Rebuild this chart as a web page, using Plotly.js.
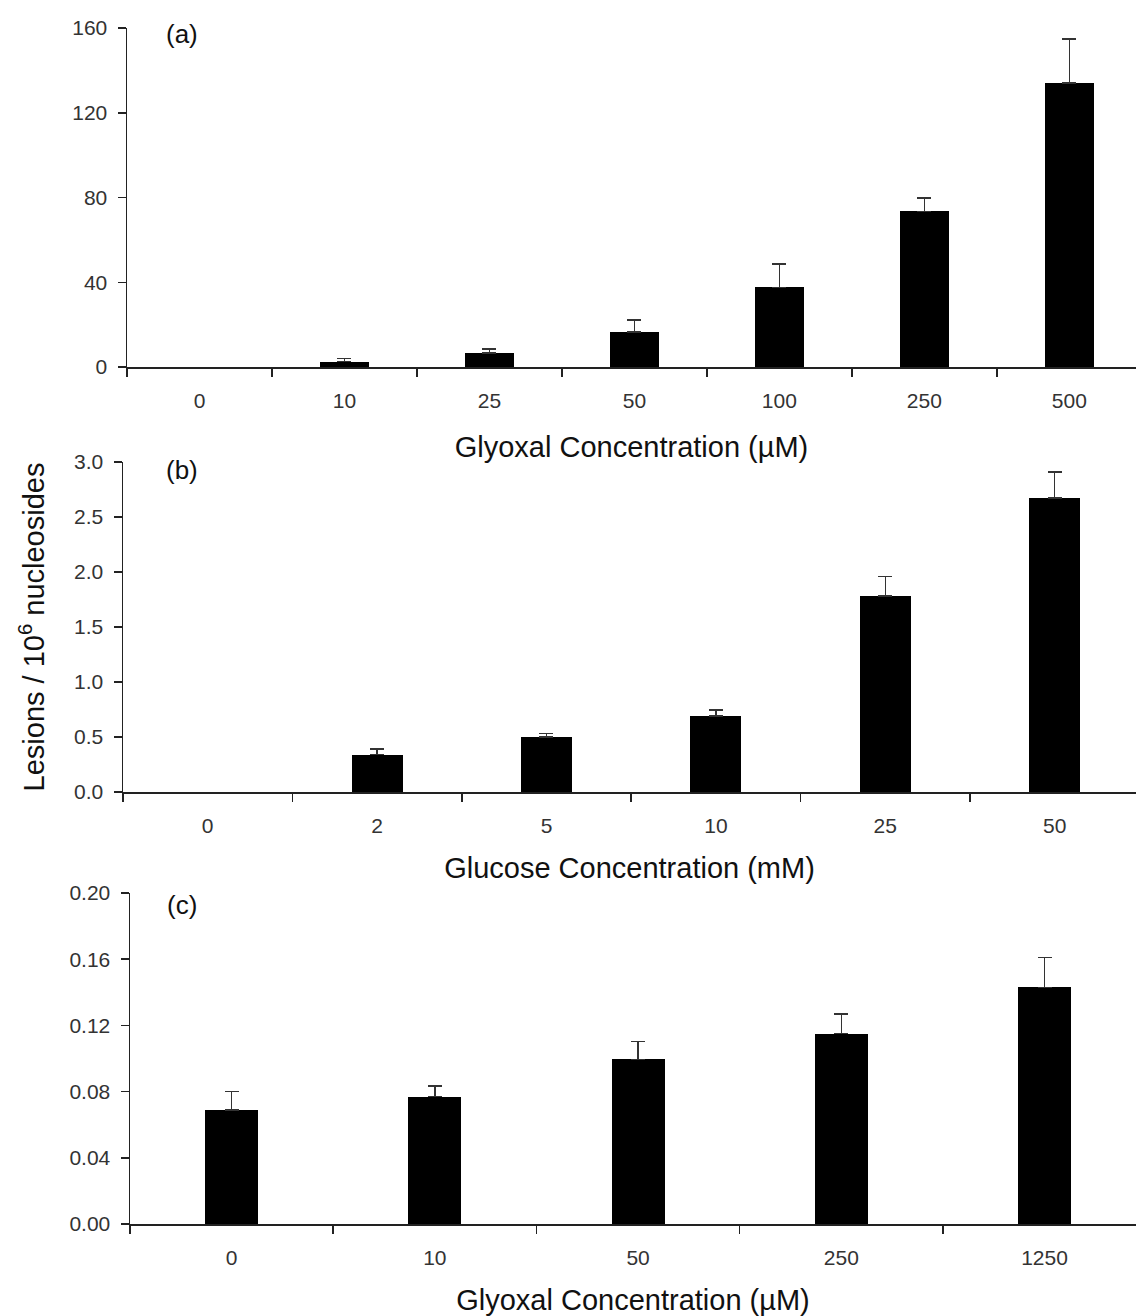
<!DOCTYPE html>
<html><head><meta charset="utf-8">
<script src="https://cdn.plot.ly/plotly-3.0.1.min.js"></script>
<style>html,body{margin:0;padding:0;background:#fff}</style>
</head><body><div id="chart" style="width:1136px;height:1316px"></div>
<script>
// Panel (a): Glyoxal (µM)
const catsA = ['0','10','25','50','100','250','500'];
const valsA = [0, 2.5, 6.5, 16.5, 37.6, 73.5, 134.0];
const errA  = [NaN, 1.5, 2.0, 5.8, 11.0, 6.3, 20.8];
// Panel (b): Glucose (mM)
const catsB = ['0','2','5','10','25','50'];
const valsB = [0, 0.34, 0.50, 0.69, 1.78, 2.675];
const errB  = [NaN, 0.05, 0.03, 0.055, 0.18, 0.235];
// Panel (c): Glyoxal (µM)
const catsC = ['0','10','50','250','1250'];
const valsC = [0.069, 0.077, 0.0994, 0.115, 0.143];
const errC  = [0.011, 0.0065, 0.011, 0.012, 0.018];

const W = 1136, H = 1316;
const FONT = 'Liberation Sans, Arial, sans-serif';
const tickFont = {family: FONT, size: 21, color: '#333'};
const titleFont = {family: FONT, size: 29, color: '#111'};

function barTrace(x, y, e, xa, ya, width) {
  return {
    type: 'bar', x: x, y: y, xaxis: xa, yaxis: ya, width: width,
    marker: {color: '#000', line: {color: '#000', width: 0}},
    error_y: {type: 'data', array: e, arrayminus: e.map(v => isNaN(v) ? NaN : 0),
              symmetric: false, color: '#333', thickness: 1.5, width: 7},
    showlegend: false, hoverinfo: 'x+y'
  };
}

const data = [
  barTrace(catsA, valsA, errA, 'x', 'y', 0.34),
  barTrace(catsB, valsB, errB, 'x2', 'y2', 0.30),
  barTrace(catsC, valsC, errC, 'x3', 'y3', 0.26)
];

function xax(cats, left, right, anchor, title, standoff) {
  return {
    type: 'category', domain: [left / W, 1], anchor: anchor,
    range: [-0.5, right], showline: true, linecolor: '#222', linewidth: 1.5,
    ticks: 'outside', tickson: 'boundaries', ticklen: 8, tickwidth: 1.5, tickcolor: '#222',
    tickfont: tickFont, ticklabelstandoff: 14, showgrid: false, zeroline: false,
    title: {text: title, font: titleFont, standoff: standoff}, fixedrange: true
  };
}
function yax(top, bottom, anchor, rng, dtick, fmt, title) {
  const a = {
    domain: [1 - bottom / H, 1 - top / H], anchor: anchor, range: rng, dtick: dtick, tick0: 0,
    tickformat: fmt, showline: true, linecolor: '#222', linewidth: 1.5,
    ticks: 'outside', ticklen: 8, tickwidth: 1.5, tickcolor: '#222',
    tickfont: tickFont, ticklabelstandoff: 6, showgrid: false, zeroline: false, fixedrange: true
  };
  if (title) a.title = {text: title, font: titleFont, standoff: 21};
  return a;
}

const layout = {
  width: W, height: H, margin: {l: 0, r: 0, t: 0, b: 0},
  paper_bgcolor: '#fff', plot_bgcolor: '#fff', bargap: 0,
  xaxis:  xax(catsA, 127, 6.46, 'y',  'Glyoxal Concentration (µM)', 26),
  yaxis:  yax(28, 367, 'x', [0, 160], 40, 'd'),
  xaxis2: xax(catsB, 123, 5.48, 'y2', 'Glucose Concentration (mM)', 22),
  yaxis2: yax(462, 792, 'x2', [0, 3], 0.5, '.1f', 'Lesions / 10<sup>6</sup> nucleosides'),
  xaxis3: xax(catsC, 130, 4.45, 'y3', 'Glyoxal Concentration (µM)', 22),
  yaxis3: yax(893, 1224, 'x3', [0, 0.2], 0.04, '.2f'),
  annotations: [
    {text: '(a)', x: 182 / W, y: 1 - 34 / H},
    {text: '(b)', x: 182 / W, y: 1 - 470 / H},
    {text: '(c)', x: 182 / W, y: 1 - 905 / H}
  ].map(a => Object.assign(a, {xref: 'paper', yref: 'paper', showarrow: false,
        xanchor: 'center', yanchor: 'middle', font: {family: FONT, size: 26, color: '#111'}}))
};

Plotly.newPlot('chart', data, layout, {staticPlot: true});
</script></body></html>
